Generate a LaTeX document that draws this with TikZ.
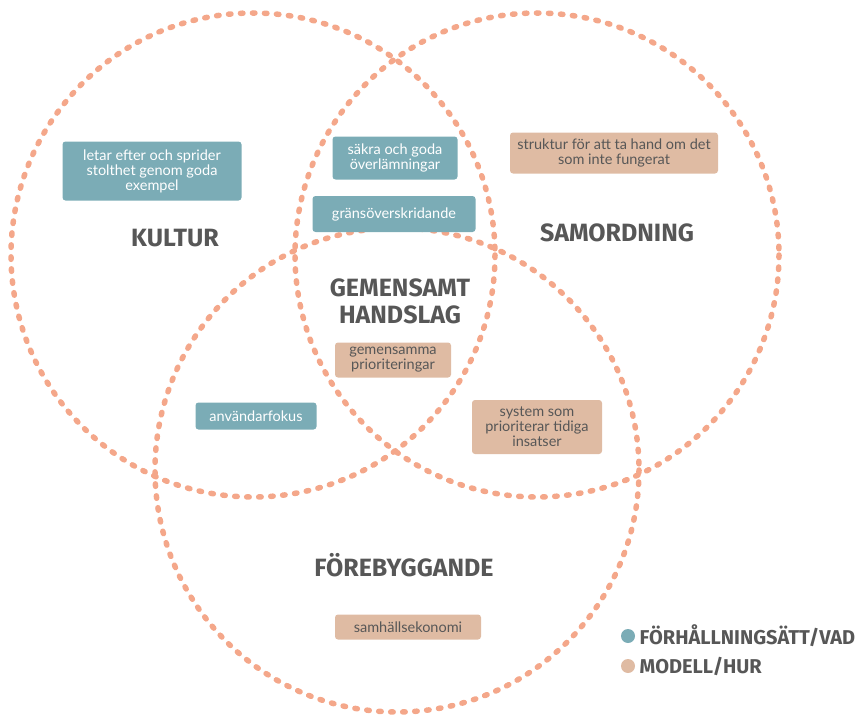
\documentclass[tikz,border=0pt]{standalone}
\usepackage{fontspec}
\setmainfont{Lato}
\newfontfamily\rubrikfont{Fira Sans}
\usepackage{xcolor}
\usetikzlibrary{positioning}

\definecolor{laxrosa}{HTML}{F4A78A}
\definecolor{blagron}{HTML}{7BACB6}
\definecolor{sand}{HTML}{DFBBA3}
\definecolor{gratext}{HTML}{575757}

\tikzset{
  ring/.style={draw=laxrosa, line width=5.5pt, line cap=round, dash pattern=on 2.5pt off 9.5pt},
  lapp/.style={rounded corners=3pt, align=center, inner sep=0pt, font=\fontsize{14.5}{15}\selectfont},
  vad/.style={lapp, fill=blagron, text=white},
  hur/.style={lapp, fill=sand, text=gratext},
  rubrik/.style={font=\rubrikfont\bfseries\fontsize{25}{27}\selectfont, text=gratext, align=center},
  prick/.style={circle, inner sep=0pt, minimum size=14pt},
  forklaring/.style={font=\rubrikfont\bfseries\fontsize{20}{22}\selectfont, text=gratext}
}

\begin{document}
\begin{tikzpicture}[x=1pt, y=-1pt]
  \useasboundingbox (0,0) rectangle (863,725);

  % de tre cirklarna
  \coordinate (mkultur) at (253,255);
  \coordinate (msamordning) at (537,255);
  \coordinate (mforebygg) at (397,470);
  \draw[ring] (mkultur) circle (242);
  \draw[ring] (msamordning) circle (242);
  \draw[ring] (mforebygg) circle (242);

  % rubriker
  \node[rubrik] (kultur) at (175,238) {KULTUR};
  \node[rubrik] (samordning) at (617,233) {SAMORDNING};
  \node[rubrik] (handslag) at (400,301) {GEMENSAMT\\HANDSLAG};
  \node[rubrik] (forebygg) at (404,565) {FÖREBYGGANDE};

  % lappar
  \node[vad, minimum width=179pt, minimum height=59pt] (stolthet) at (152,171)
       {letar efter och sprider\\stolthet genom goda\\exempel};
  \node[vad, minimum width=125pt, minimum height=43pt] (overlamning) at (395,158)
       {säkra och goda\\överlämningar};
  \node[vad, minimum width=163pt, minimum height=36pt] (gransover) at (394,214)
       {gränsöverskridande};
  \node[hur, minimum width=208pt, minimum height=41pt] (struktur) at (614,153)
       {struktur för att ta hand om det\\som inte fungerat};
  \node[hur, minimum width=116pt, minimum height=35pt] (prioritet) at (393,360)
       {gemensamma\\prioriteringar};
  \node[vad, minimum width=121pt, minimum height=27pt] (anvandare) at (256,416)
       {användarfokus};
  \node[hur, minimum width=130pt, minimum height=54pt] (tidiga) at (537,427)
       {system som\\prioriterar tidiga\\insatser};
  \node[hur, minimum width=146pt, minimum height=25pt] (ekonomi) at (408,627)
       {samhällsekonomi};

  % teckenförklaring
  \node[prick, fill=blagron] (prickvad) at (628,636) {};
  \node[prick, fill=sand] (prickhur) at (628,666) {};
  \node[forklaring, right=1pt of prickvad] (textvad) {FÖRHÅLLNINGSÄTT/VAD};
  \node[forklaring, right=1pt of prickhur] (texthur) {MODELL/HUR};
\end{tikzpicture}
\end{document}
